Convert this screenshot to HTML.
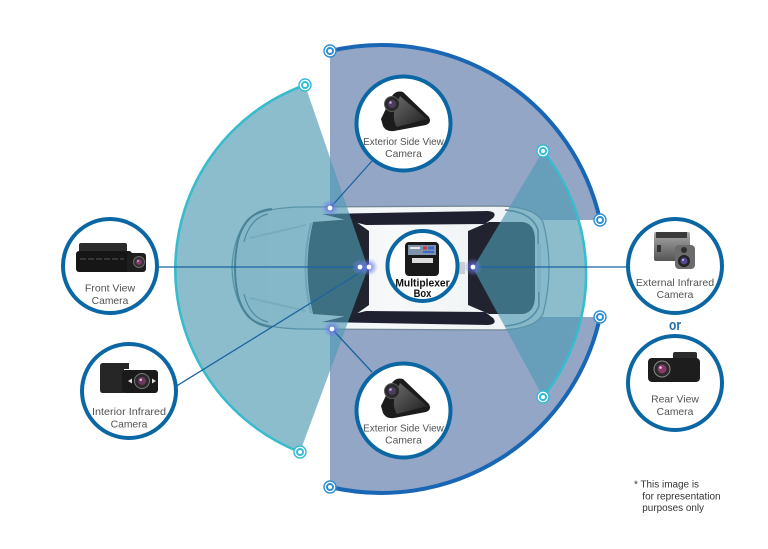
<!DOCTYPE html>
<html>
<head>
<meta charset="utf-8">
<style>
  html,body{margin:0;padding:0;background:#fff;}
  svg{display:block;}
  text{font-family:"Liberation Sans",Arial,sans-serif;}
</style>
</head>
<body>
<svg width="768" height="549" viewBox="0 0 768 549" xmlns="http://www.w3.org/2000/svg">
  <defs>
    <radialGradient id="glow" cx="50%" cy="50%" r="50%">
      <stop offset="0" stop-color="#4f5fe0" stop-opacity="0.95"/>
      <stop offset="0.45" stop-color="#6676e6" stop-opacity="0.55"/>
      <stop offset="1" stop-color="#8090f0" stop-opacity="0"/>
    </radialGradient>
    <linearGradient id="bodyg" x1="0" y1="0" x2="1" y2="0">
      <stop offset="0" stop-color="#e6ecef"/>
      <stop offset="0.5" stop-color="#f6f8f9"/>
      <stop offset="1" stop-color="#eef2f4"/>
    </linearGradient>
    <linearGradient id="metal" x1="0" y1="0" x2="0" y2="1">
      <stop offset="0" stop-color="#a8a8a8"/>
      <stop offset="1" stop-color="#555"/>
    </linearGradient>
    <linearGradient id="camface" x1="0" y1="0" x2="1" y2="1">
      <stop offset="0" stop-color="#6a6a6a"/>
      <stop offset="1" stop-color="#1e1e1e"/>
    </linearGradient>
  </defs>

  <!-- purple side-camera sectors -->
  <path d="M330,51 A224,224 0 0 1 600,220 L330,220 Z" fill="#94a6c6"/>
  <path d="M330,487 A224,224 0 0 0 600,317 L330,317 Z" fill="#94a6c6"/>

  <!-- CAR -->
  <path d="M300,207 L500,206 Q535,207 543,222 Q549,245 549,268 Q549,291 543,314 Q535,329 500,330 L300,329 Q262,328 248,317 Q233,299 232,268 Q233,237 248,219 Q262,208 300,207 Z" fill="url(#bodyg)" stroke="#6f8794" stroke-width="1.3"/>
  <!-- front fender curves -->
  <path d="M272,209 Q246,211 238,240 Q232,268 238,296 Q246,325 272,327" fill="none" stroke="#3f5a68" stroke-width="2"/>
  <path d="M268,214 Q250,218 244,242" fill="none" stroke="#54707e" stroke-width="1.2"/>
  <path d="M268,322 Q250,318 244,294" fill="none" stroke="#54707e" stroke-width="1.2"/>
  <!-- hood lines -->
  <path d="M250,238 L306,225" stroke="#c3d0d7" stroke-width="2" fill="none"/>
  <path d="M250,298 L306,311" stroke="#c3d0d7" stroke-width="2" fill="none"/>
  <!-- rear lines -->
  <path d="M505,210 Q532,212 538,230 L539,306 Q532,324 505,326" fill="none" stroke="#5f7886" stroke-width="1.6"/>
  <rect x="537" y="244" width="4" height="48" rx="2" fill="#cfd8dd"/>
  <!-- side window strips -->
  <path d="M322,214 L488,211 Q498,212 493,218 L485,224 L366,225 Z" fill="#1f2130"/>
  <path d="M322,322 L488,325 Q498,324 493,318 L485,312 L366,311 Z" fill="#1f2130"/>
  <!-- front glass -->
  <path d="M313,222 L352,219 L369,231 L369,305 L352,317 L313,314 Q302,268 313,222 Z" fill="#21242e"/>
  <path d="M311,223 Q300,268 311,313" fill="none" stroke="#a9bac3" stroke-width="2"/>
  <!-- rear glass -->
  <path d="M468,231 L489,222 L523,222 Q535,224 535,240 L535,296 Q535,312 523,314 L489,314 L468,305 Z" fill="#21242e"/>
  <rect x="457" y="262" width="8" height="12" fill="#c9ced1"/>

  <!-- camera cones -->
  <path d="M368,268 L305,85 A196,196 0 0 0 300,452 Z" fill="#4f9ab2" fill-opacity="0.65"/>
  <path d="M473,268 L543,151 A197,197 0 0 1 543,397 Z" fill="#4f9ab2" fill-opacity="0.65"/>

  <!-- arcs -->
  <path d="M330,51 A224,224 0 0 1 600,220" fill="none" stroke="#1866b4" stroke-width="4"/>
  <path d="M600,317 A224,224 0 0 1 330,487" fill="none" stroke="#1866b4" stroke-width="4"/>
  <path d="M305,85 A196,196 0 0 0 300,452" fill="none" stroke="#38bccd" stroke-width="2.6"/>
  <path d="M543,151 A197,197 0 0 1 543,397" fill="none" stroke="#38bccd" stroke-width="2.6"/>

  <!-- markers -->
  <g fill="#fff" stroke="#2f8fd0">
    <circle cx="330" cy="51" r="6" stroke-width="1.4"/><circle cx="330" cy="51" r="3" stroke-width="2"/>
    <circle cx="330" cy="487" r="6" stroke-width="1.4"/><circle cx="330" cy="487" r="3" stroke-width="2"/>
    <circle cx="600" cy="220" r="6" stroke-width="1.4"/><circle cx="600" cy="220" r="3" stroke-width="2"/>
    <circle cx="600" cy="317" r="6" stroke-width="1.4"/><circle cx="600" cy="317" r="3" stroke-width="2"/>
  </g>
  <g fill="#fff" stroke="#34bcd6">
    <circle cx="305" cy="85" r="6" stroke-width="1.4"/><circle cx="305" cy="85" r="3" stroke-width="2"/>
    <circle cx="300" cy="452" r="6" stroke-width="1.4"/><circle cx="300" cy="452" r="3" stroke-width="2"/>
    <circle cx="543" cy="151" r="6" stroke-width="1.4"/><circle cx="543" cy="151" r="3" stroke-width="2"/>
    <circle cx="543" cy="397" r="6" stroke-width="1.4"/><circle cx="543" cy="397" r="3" stroke-width="2"/>
  </g>

  <!-- connector lines -->
  <g stroke="#1a64a0" stroke-width="1.3" fill="none">
    <line x1="158" y1="267" x2="360" y2="267"/>
    <line x1="177" y1="385.7" x2="369" y2="267"/>
    <line x1="473" y1="267" x2="627" y2="267"/>
    <line x1="330" y1="208" x2="372" y2="161"/>
    <line x1="332" y1="329" x2="372" y2="372"/>
  </g>

  <!-- glow dots -->
  <g>
    <circle cx="330" cy="208" r="9" fill="url(#glow)"/><circle cx="330" cy="208" r="2.4" fill="#fff"/>
    <circle cx="332" cy="329" r="9" fill="url(#glow)"/><circle cx="332" cy="329" r="2.4" fill="#fff"/>
    <circle cx="360" cy="267" r="8" fill="url(#glow)"/>
    <circle cx="369" cy="267" r="9" fill="url(#glow)"/>
    <circle cx="360" cy="267" r="2.4" fill="#fff"/><circle cx="369" cy="267" r="2.4" fill="#fff"/>
    <circle cx="473" cy="267" r="9" fill="url(#glow)"/><circle cx="473" cy="267" r="2.4" fill="#fff"/>
  </g>

  <!-- camera circles -->
  <g fill="#fff" stroke="#0b67a3" stroke-width="4">
    <circle cx="403.5" cy="123.5" r="47"/>
    <circle cx="403.5" cy="410.5" r="47"/>
    <circle cx="110" cy="266" r="47"/>
    <circle cx="129" cy="391" r="47"/>
    <circle cx="675" cy="266" r="47"/>
    <circle cx="675" cy="383" r="47"/>
    <circle cx="422.5" cy="266" r="35"/>
  </g>

  <!-- exterior side cameras -->
  <g id="sidecam">
    <path d="M381,119 L392,96 Q396,90 403,92 L429,117 Q432,123 426,125 L394,131 Q386,132 383,126 Z" fill="#1c1c1c"/>
    <path d="M400,96 L427,119 L397,127 Q392,120 395,108 Z" fill="url(#camface)"/>
    <circle cx="392" cy="104" r="7.5" fill="#2a2a2a" stroke="#5a5a5a" stroke-width="1"/>
    <circle cx="392" cy="104" r="4" fill="#4a3e5c"/>
    <circle cx="390.5" cy="102.5" r="1.3" fill="#b9a8d8"/>
  </g>
  <g transform="translate(0,287)">
    <path d="M381,119 L392,96 Q396,90 403,92 L429,117 Q432,123 426,125 L394,131 Q386,132 383,126 Z" fill="#1c1c1c"/>
    <path d="M400,96 L427,119 L397,127 Q392,120 395,108 Z" fill="url(#camface)"/>
    <circle cx="392" cy="104" r="7.5" fill="#2a2a2a" stroke="#5a5a5a" stroke-width="1"/>
    <circle cx="392" cy="104" r="4" fill="#4a3e5c"/>
    <circle cx="390.5" cy="102.5" r="1.3" fill="#b9a8d8"/>
  </g>

  <!-- front view camera -->
  <rect x="79" y="243" width="48" height="10" rx="2" fill="#2c2c2c"/>
  <rect x="76" y="251" width="56" height="21" rx="3" fill="#161616"/>
  <line x1="80" y1="259" x2="124" y2="259" stroke="#555" stroke-width="1" stroke-dasharray="6,2"/>
  <rect x="127" y="253" width="19" height="19" rx="3" fill="#1e1e1e"/>
  <circle cx="139" cy="262" r="5.5" fill="#333" stroke="#6a6a6a" stroke-width="1"/>
  <circle cx="139" cy="262" r="2.8" fill="#8a3c6c"/>
  <circle cx="138" cy="261" r="0.9" fill="#f0c0e0"/>

  <!-- interior infrared camera -->
  <path d="M100,366 Q100,363 103,363 L129,363 L129,369 L124,369 L124,393 L103,393 Q100,393 100,390 Z" fill="#262626"/>
  <rect x="122" y="370" width="36" height="23" rx="3" fill="#1a1a1a"/>
  <circle cx="142" cy="381" r="7.5" fill="#2a2a2a" stroke="#7a7a7a" stroke-width="1"/>
  <circle cx="142" cy="381" r="4" fill="#6a3a5e"/>
  <circle cx="140.8" cy="379.8" r="1.2" fill="#f0c8e4"/>
  <path d="M128,381 L132,378.5 L132,383.5 Z" fill="#ddd"/>
  <path d="M156,381 L152,378.5 L152,383.5 Z" fill="#ddd"/>

  <!-- multiplexer box -->
  <rect x="405" y="242" width="34" height="34" rx="4" fill="#1a1a1a"/>
  <rect x="408" y="245" width="28" height="10" fill="#7f93ad"/>
  <rect x="410" y="247" width="10" height="2" fill="#e8e8e8"/>
  <rect x="423" y="246.5" width="4" height="3" fill="#c83a3a"/>
  <rect x="428" y="246.5" width="6" height="3" fill="#3a6ad0"/>
  <rect x="423" y="251" width="11" height="2" fill="#3a6ad0"/>
  <rect x="412" y="258" width="21" height="5" fill="#dcdcdc"/>

  <!-- external infrared camera -->
  <rect x="654" y="232" width="36" height="29" rx="2" fill="url(#metal)"/>
  <rect x="656" y="232" width="31" height="6" fill="#3a3a3a"/>
  <rect x="657" y="245" width="4" height="7" fill="#333"/>
  <rect x="675" y="245" width="20" height="24" rx="4" fill="#6c6c6c"/>
  <circle cx="684" cy="250" r="3" fill="#2e2e2e"/>
  <circle cx="684" cy="261" r="6" fill="#222"/>
  <circle cx="684" cy="261" r="3.5" fill="#54488e"/>
  <circle cx="683" cy="260" r="1" fill="#c8c0f0"/>

  <!-- rear view camera -->
  <rect x="673" y="352" width="24" height="9" rx="2" fill="#2c2c2c"/>
  <rect x="648" y="358" width="52" height="24" rx="4" fill="#1d1d1d"/>
  <circle cx="662" cy="369" r="8" fill="#2a2a2a" stroke="#8a8a8a" stroke-width="1"/>
  <circle cx="662" cy="369" r="4.5" fill="#8a3a6a"/>
  <circle cx="660.5" cy="367.5" r="1.3" fill="#f5c8e6"/>

  <!-- labels -->
  <g fill="#525252" font-size="10.3" text-anchor="middle">
    <text x="403.5" y="145" textLength="80.7" lengthAdjust="spacingAndGlyphs">Exterior Side View</text>
    <text x="403.5" y="157" textLength="36.7" lengthAdjust="spacingAndGlyphs">Camera</text>
    <text x="403.5" y="431.5" textLength="80.7" lengthAdjust="spacingAndGlyphs">Exterior Side View</text>
    <text x="403.5" y="443.5" textLength="36.7" lengthAdjust="spacingAndGlyphs">Camera</text>
    <text x="110" y="291.5" textLength="50.3" lengthAdjust="spacingAndGlyphs">Front View</text>
    <text x="110" y="304" textLength="36.7" lengthAdjust="spacingAndGlyphs">Camera</text>
    <text x="129" y="415" textLength="74" lengthAdjust="spacingAndGlyphs">Interior Infrared</text>
    <text x="129" y="427.5" textLength="36.7" lengthAdjust="spacingAndGlyphs">Camera</text>
    <text x="675" y="286" textLength="78.3" lengthAdjust="spacingAndGlyphs">External Infrared</text>
    <text x="675" y="298" textLength="36.7" lengthAdjust="spacingAndGlyphs">Camera</text>
    <text x="675" y="402.5" textLength="47.7" lengthAdjust="spacingAndGlyphs">Rear View</text>
    <text x="675" y="415" textLength="36.7" lengthAdjust="spacingAndGlyphs">Camera</text>
  </g>
  <g fill="#111" font-size="11" font-weight="bold" text-anchor="middle">
    <text x="422.5" y="286.5" textLength="54.3" lengthAdjust="spacingAndGlyphs">Multiplexer</text>
    <text x="422.5" y="297" textLength="17.7" lengthAdjust="spacingAndGlyphs">Box</text>
  </g>
  <text x="675" y="330" fill="#1d6ea8" font-size="15" font-weight="bold" text-anchor="middle" textLength="12" lengthAdjust="spacingAndGlyphs">or</text>

  <g fill="#333" font-size="10">
    <text x="634" y="487.5" textLength="65" lengthAdjust="spacingAndGlyphs">* This image is</text>
    <text x="642.3" y="499.5" textLength="78.3" lengthAdjust="spacingAndGlyphs">for representation</text>
    <text x="642.3" y="511" textLength="61.7" lengthAdjust="spacingAndGlyphs">purposes only</text>
  </g>
</svg>
</body>
</html>
